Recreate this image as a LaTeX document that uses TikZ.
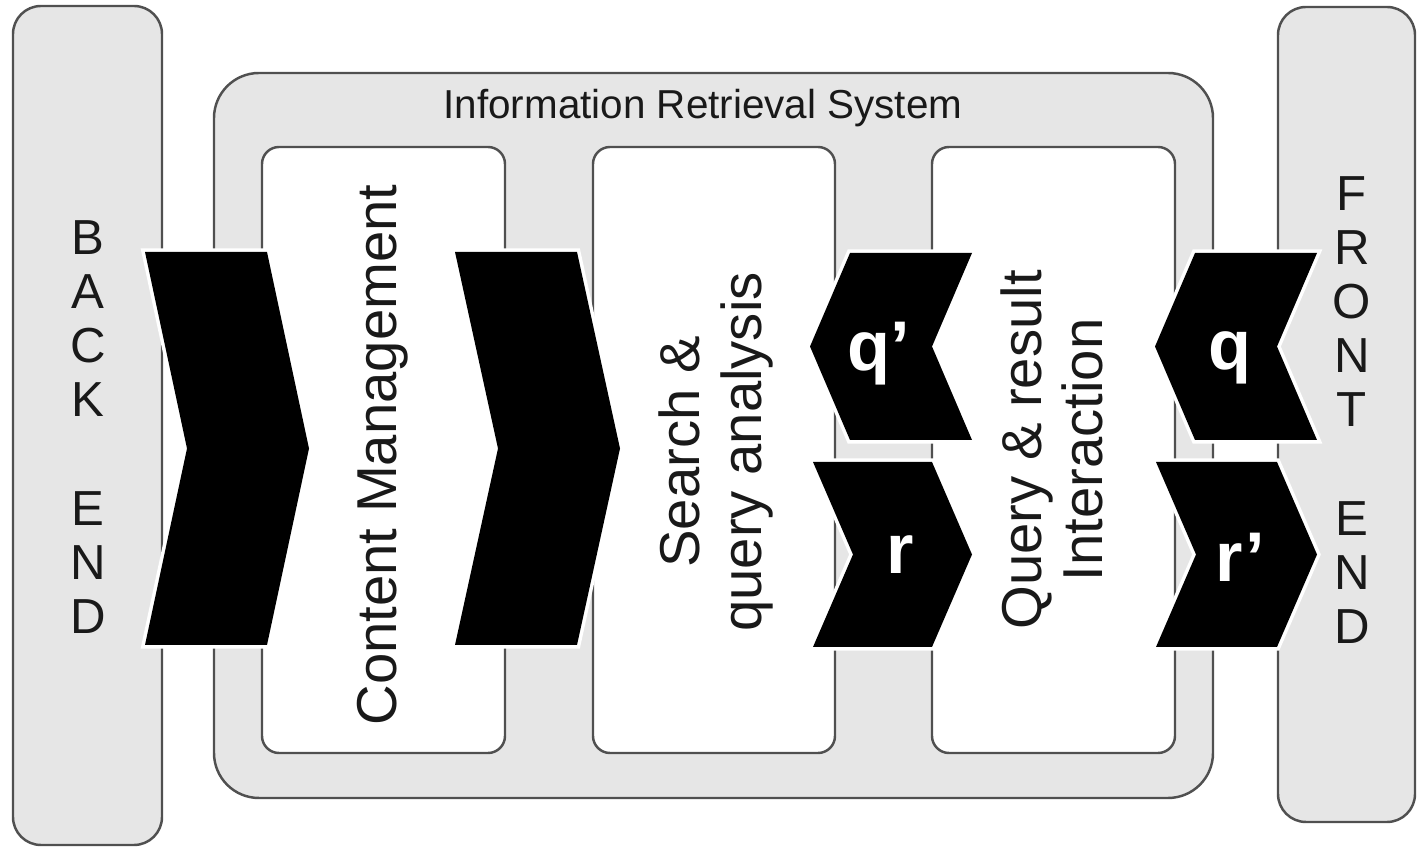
\documentclass[tikz,border=0pt]{standalone}
\usepackage{fontspec}
\setmainfont{Liberation Sans}
\usepackage{xcolor}
\usepackage{tikz}
\usetikzlibrary{positioning}
\definecolor{panel}{RGB}{230,230,230}
\definecolor{rim}{RGB}{80,80,80}
\definecolor{ink}{RGB}{25,25,25}
% chevron pointing right: back x, front x, top y, bottom y, depth
\newcommand{\chevR}[5]{\path[chev] (#1,#3) -- (#2,#3) -- (#2+#5,{(#3+#4)/2}) -- (#2,#4) -- (#1,#4) -- (#1+#5,{(#3+#4)/2}) -- cycle;}
% chevron pointing left: left x, right x, top y, bottom y, depth
\newcommand{\chevL}[5]{\path[chev] (#1,#3) -- (#2,#3) -- (#2-#5,{(#3+#4)/2}) -- (#2,#4) -- (#1,#4) -- (#1-#5,{(#3+#4)/2}) -- cycle;}

\begin{document}
\begin{tikzpicture}[
  bar/.style={draw=rim,line width=0.7pt,fill=panel,rounded corners=0.28cm},
  sys/.style={draw=rim,line width=0.7pt,fill=panel,rounded corners=0.45cm},
  stage/.style={draw=rim,line width=0.7pt,fill=white,rounded corners=0.17cm},
  chev/.style={fill=black,preaction={draw=white,line width=2pt,line join=miter}},
  ends/.style={ink,align=center,inner sep=0pt,font=\fontsize{14}{15.4}\selectfont},
  vlabel/.style={ink,rotate=90,align=center,inner sep=0pt,font=\fontsize{16}{17.5}\selectfont},
  tag/.style={white,inner sep=0pt,font=\fontsize{20}{22}\selectfont\bfseries}]
  \useasboundingbox (0,0) rectangle (14.17,-8.47);
  % back end and front end bars
  \draw[bar] (0.13,-0.06) rectangle (1.62,-8.45);
  \draw[bar] (12.78,-0.07) rectangle (14.15,-8.22);
  % system frame and its three stages
  \draw[sys] (2.14,-0.73) rectangle (12.13,-7.98);
  \draw[stage] (2.62,-1.47) rectangle (5.05,-7.53);
  \draw[stage] (5.93,-1.47) rectangle (8.35,-7.53);
  \draw[stage] (9.32,-1.47) rectangle (11.75,-7.53);
  % chevrons
  \chevR{1.45}{2.67}{-2.52}{-6.45}{0.42}
  \chevR{4.55}{5.77}{-2.52}{-6.45}{0.43}
  \chevL{8.50}{9.72}{-2.53}{-4.40}{0.40}
  \chevR{8.13}{9.32}{-4.62}{-6.47}{0.40}
  \chevL{11.95}{13.17}{-2.53}{-4.40}{0.40}
  \chevR{11.56}{12.77}{-4.62}{-6.47}{0.40}
  % labels
  \node[ink,font=\fontsize{11.5}{13}\selectfont,anchor=base] (title) at (7.03,-1.19) {Information Retrieval System};
  \node[ends] (back) at (0.88,-4.27) {B\\A\\C\\K\\~\\E\\N\\D};
  \node[ends] (front) at (13.52,-4.10) {F\\R\\O\\N\\T\\~\\E\\N\\D};
  \node[vlabel] (content) at (3.83,-4.55) {Content Management};
  \node[vlabel] (search) at (7.16,-4.52) {Search \&\\query analysis};
  \node[vlabel] (query) at (10.52,-4.50) {Query \& result\\Interaction};
  \node[tag] (qa) at (8.79,-3.54) {q'};
  \node[tag] (ra) at (9.00,-5.55) {r};
  \node[tag] (qb) at (12.30,-3.58) {q};
  \node[tag] (rb) at (12.40,-5.57) {r'};
\end{tikzpicture}
\end{document}
